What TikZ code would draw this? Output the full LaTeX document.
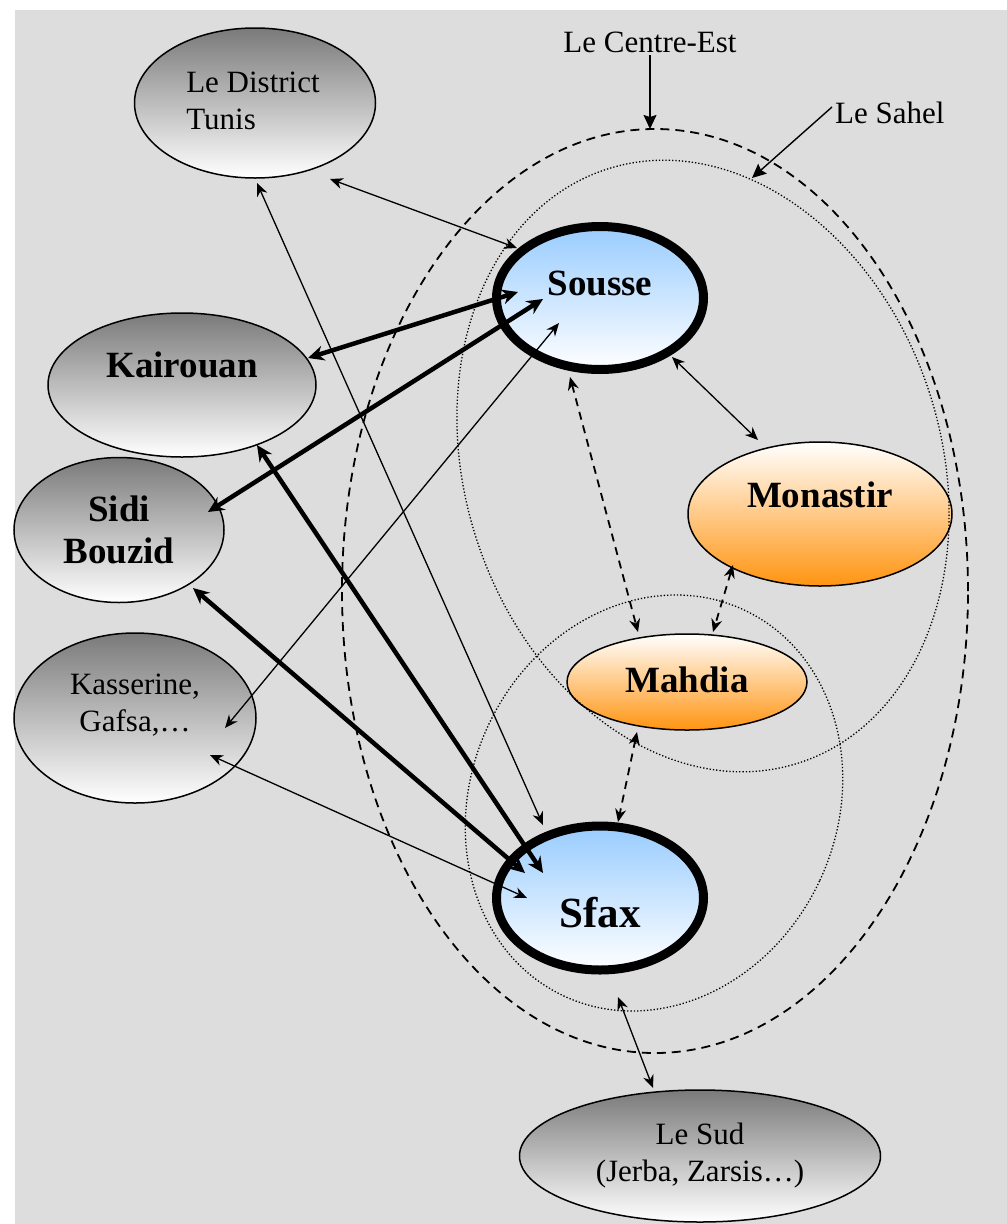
\documentclass[tikz,border=0pt]{standalone}
\usepackage{fontspec}
\setmainfont{Liberation Serif}
\usetikzlibrary{arrows.meta,shapes.geometric,calc}
\definecolor{bgc}{HTML}{DDDDDD}
\definecolor{skyb}{HTML}{99CCFF}
\definecolor{orng}{HTML}{FF9410}
\definecolor{greyd}{HTML}{7A7A7A}
\begin{document}
\begin{tikzpicture}[x=1pt,y=-1pt,
  ell/.style={ellipse, draw, line width=1.5pt, inner sep=0pt, outer sep=0pt},
  greyn/.style={ell, top color=greyd, bottom color=white},
  bluen/.style={ell, line width=9pt, top color=skyb, bottom color=white},
  orangen/.style={ell, top color=white, bottom color=orng},
  reg/.style={font=\fontsize{31}{37}\selectfont, align=center},
  big/.style={font=\fontsize{37}{42}\selectfont\bfseries, align=center},
  huge/.style={font=\fontsize{43}{48}\selectfont\bfseries, align=center},
  zone/.style={ellipse, draw, inner sep=0pt, outer sep=0pt},
  dashz/.style={zone, line width=1.8pt, dash pattern=on 9pt off 6pt},
  dotz/.style={zone, line width=1.3pt, dash pattern=on 1.3pt off 2pt},
  lnk/.style={line width=1.3pt, {Stealth[length=13pt,width=11pt]}-{Stealth[length=13pt,width=11pt]}},
  heavy/.style={line width=4.5pt, {Stealth[length=16pt,width=15pt]}-{Stealth[length=16pt,width=15pt]}},
  dlnk/.style={line width=1.8pt, dash pattern=on 8pt off 6pt, {Stealth[length=13pt,width=11pt]}-{Stealth[length=13pt,width=11pt]}},
  pointer/.style={line width=1.4pt, -{Stealth[length=14pt,width=13pt,inset=2pt]}}
]
\useasboundingbox (0,0) rectangle (1007,1224);
\fill[white] (0,0) rectangle (1007,1224);
\fill[bgc] (15,10) rectangle (1007,1224);

% region nodes
\node[greyn, minimum width=241pt, minimum height=150pt,
  label={[reg, align=left, yshift=2pt, xshift=-2pt]center:Le District\\Tunis}] (tunis) at (255,103) {};
\node[greyn, minimum width=268pt, minimum height=144pt,
  label={[big, yshift=20pt]center:Kairouan}] (kair) at (182,385) {};
\node[greyn, minimum width=210pt, minimum height=145pt,
  label={[big]center:Sidi\\Bouzid}] (sidi) at (119,530) {};
\node[greyn, minimum width=242pt, minimum height=170pt,
  label={[reg, yshift=13pt]center:Kasserine,\\Gafsa,…}] (kass) at (135,718) {};
\node[bluen, minimum width=207pt, minimum height=143pt,
  label={[big, yshift=15pt]center:Sousse}] (sousse) at (600,298) {};
\node[orangen, minimum width=264pt, minimum height=144pt,
  label={[big, yshift=19pt]center:Monastir}] (mona) at (820,514) {};
\node[orangen, minimum width=240pt, minimum height=96pt,
  label={[big, yshift=2pt]center:Mahdia}] (mahd) at (687,682) {};
\node[bluen, minimum width=207pt, minimum height=144pt,
  label={[huge, yshift=-15pt]center:Sfax}] (sfax) at (600,898) {};
\node[greyn, minimum width=361pt, minimum height=132pt,
  label={[reg]center:Le Sud\\(Jerba, Zarsis…)}] (sud) at (700,1156) {};

% zone outlines
\node[dashz, minimum width=626pt, minimum height=924pt] (centre) at (655,591) {};
\node[dotz, minimum width=476pt, minimum height=624pt, rotate=18] (sahel) at (703,466) {};
\node[dotz, minimum width=366pt, minimum height=426pt, rotate=-25] (sudz) at (654,803) {};

% zone labels
\node[reg, inner sep=2pt] (cetext) at (650,42) {Le Centre-Est};
\node[reg, anchor=west, inner sep=0pt] (saheltext) at (835,113) {Le Sahel};
\coordinate (sahelpt) at (752,178);
\draw[pointer] (cetext.south) -- (cetext.south |- centre.north);
\draw[pointer] ([shift={(-3,-6)}]saheltext.west) -- (sahelpt);

% connectors
\draw[lnk] ([shift={(75,76)}]tunis.center) -- ([shift={(-83,-50)}]sousse.center);
\draw[lnk] ([shift={(2,80)}]tunis.center) -- ([shift={(-57,-73)}]sfax.center);
\draw[heavy] ([shift={(126,-27)}]kair.center) -- ([shift={(-82,-6)}]sousse.center);
\draw[heavy] ([shift={(89,-18)}]sidi.center) -- ([shift={(-57,1)}]sousse.center);
\draw[lnk] ([shift={(90,10)}]kass.center) -- ([shift={(-41,25)}]sousse.center);
\draw[heavy] ([shift={(75,60)}]kair.center) -- ([shift={(-57,-25)}]sfax.center);
\draw[heavy] ([shift={(74,58)}]sidi.center) -- ([shift={(-75,-25)}]sfax.center);
\draw[lnk] ([shift={(75,37)}]kass.center) -- ([shift={(-73,0)}]sfax.center);
\draw[lnk] ([shift={(72,59)}]sousse.center) -- ([shift={(-62,-74)}]mona.center);
\draw[dlnk] ([shift={(-30,79)}]sousse.center) -- ([shift={(-49,-50)}]mahd.center);
\draw[dlnk] ([shift={(-87,51)}]mona.center) -- ([shift={(26,-50)}]mahd.center);
\draw[dlnk] ([shift={(-50,50)}]mahd.center) -- ([shift={(18,-76)}]sfax.center);
\draw[lnk] ([shift={(18,99)}]sfax.center) -- ([shift={(-47,-68)}]sud.center);
\end{tikzpicture}
\end{document}
